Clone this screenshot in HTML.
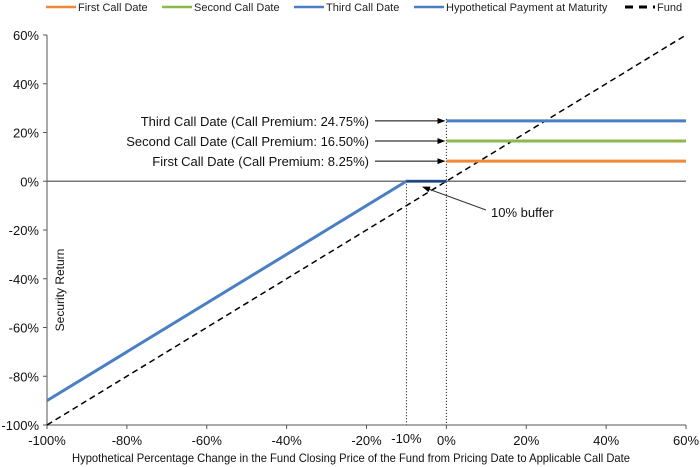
<!DOCTYPE html>
<html><head><meta charset="utf-8"><style>
body{margin:0;background:#fff;}
svg{display:block;font-family:"Liberation Sans",Arial,sans-serif;}
</style></head><body>
<svg id="chart" width="700" height="467" viewBox="0 0 700 467">
<defs>
<marker id="ah" markerWidth="8" markerHeight="8" refX="7" refY="4" orient="auto" markerUnits="userSpaceOnUse"><path d="M0,1 L8,4 L0,7 Z" fill="#000"/></marker>
</defs>
<g id="legend" font-size="11" fill="#222"></g>
<g id="plot"></g>
</svg>
<script>
const xTicks=[-100,-80,-60,-40,-20,-10,0,20,40,60];
const yTicks=[-100,-80,-60,-40,-20,0,20,40,60];
const callNames=["First Call Date","Second Call Date","Third Call Date"];
const callPremiums=[8.25,16.5,24.75];
const callColors=["#f0883a","#8cb84a","#4a7fc4"];
const maturityX=[-100,-10,0];
const maturityY=[-90,0,0];
const fundX=[-100,60];
const fundY=[-100,60];
const buffer=-10;

const NS="http://www.w3.org/2000/svg";
const X0=47,X1=686,Y0=425,Y1=35;
const xs=v=>X0+(v+100)/160*(X1-X0);
const ys=v=>Y0-(v+100)/160*(Y0-Y1);
const plot=document.getElementById('plot');
function mk(tag,attrs,parent){const e=document.createElementNS(NS,tag);for(const k in attrs)e.setAttribute(k,attrs[k]);(parent||plot).appendChild(e);return e;}

let z=mk('line',{x1:X0,x2:X1,y1:ys(0),y2:ys(0),stroke:'#777','stroke-width':1.5});


let d1=mk('line',{x1:xs(buffer),x2:xs(buffer),y1:ys(0),y2:Y0,stroke:'#000','stroke-width':1,'stroke-dasharray':'1,2'});


let d2=mk('line',{x1:xs(0),x2:xs(0),y1:ys(Math.max(...callPremiums))-2,y2:Y0,stroke:'#000','stroke-width':1,'stroke-dasharray':'1,2'});



let ya=mk('line',{x1:X0,x2:X0,y1:Y1,y2:Y0,stroke:'#555','stroke-width':1});


let xa=mk('line',{x1:X0,x2:X1,y1:Y0,y2:Y0,stroke:'#555','stroke-width':1});


yTicks.forEach(v=>{
  mk('line',{x1:X0-4,x2:X0,y1:ys(v),y2:ys(v),stroke:'#555'});
  const t=mk('text',{x:X0-8,y:ys(v)+5,'text-anchor':'end','font-size':13,fill:'#111'});
  t.textContent=v+'%';
  
  
});
xTicks.forEach(v=>{
  if(v!==-10) mk('line',{x1:xs(v),x2:xs(v),y1:Y0,y2:Y0+4,stroke:'#555'});
  const t=mk('text',{x:xs(v),y:v===-10?443:445,'text-anchor':'middle','font-size':13,fill:'#111'});
  t.textContent=v+'%';
  
  
});

let f=mk('line',{x1:xs(fundX[0]),y1:ys(fundY[0]),x2:xs(fundX[1]),y2:ys(fundY[1]),stroke:'#000','stroke-width':1.5,'stroke-dasharray':'6,4'});


let m=mk('polyline',{points:maturityX.map((x,i)=>xs(x)+','+ys(maturityY[i])).join(' '),fill:'none',stroke:'#4a7fc4','stroke-width':3});


mk('line',{x1:xs(-10),x2:xs(0),y1:ys(0),y2:ys(0),stroke:'#1f3f6e','stroke-width':2});
callPremiums.forEach((p,i)=>{
  const l=mk('line',{x1:xs(0),x2:X1,y1:ys(p),y2:ys(p),stroke:callColors[i],'stroke-width':3});
  
  
  const a=mk('line',{x1:375,x2:xs(0)-2,y1:ys(p),y2:ys(p),stroke:'#000','stroke-width':1,'marker-end':'url(#ah)'});
  
  
  const t=mk('text',{x:369,y:ys(p)+5,'text-anchor':'end','font-size':13,fill:'#111'});
  t.textContent=callNames[i]+' (Call Premium: '+p.toFixed(2)+'%)';
  
  
});
let ba=mk('line',{x1:486,y1:210,x2:423,y2:187,stroke:'#333','stroke-width':1,'marker-end':'url(#ah)'});


let bt=mk('text',{x:491,y:217,'font-size':13,fill:'#111'});
bt.textContent='10% buffer';


let yt=mk('text',{x:0,y:0,transform:'translate(64,290) rotate(-90)','text-anchor':'middle','font-size':12,fill:'#111'});
yt.textContent='Security Return';


let xt=mk('text',{x:72,y:462,'font-size':12,fill:'#111',textLength:558,lengthAdjust:'spacingAndGlyphs'});
xt.textContent='Hypothetical Percentage Change in the Fund Closing Price of the Fund from Pricing Date to Applicable Call Date';



const lg=document.getElementById('legend');
const legItems=[["First Call Date","#f0883a",46,false],["Second Call Date","#8cb84a",162,false],["Third Call Date","#4a7fc4",294,false],["Hypothetical Payment at Maturity","#4a7fc4",414,false],["Fund","#000",625,true]];
legItems.forEach(it=>{
  const g=mk('g',{},lg);
  
  
  mk('line',{x1:it[2],x2:it[2]+30,y1:7,y2:7,stroke:it[1],'stroke-width':it[3]?3:2.5,'stroke-dasharray':it[3]?'8,6':'none'},g);
  const t=mk('text',{x:it[2]+32,y:11,'font-size':11,fill:'#222'},g);
  t.textContent=it[0];
});
</script>
</body></html>
